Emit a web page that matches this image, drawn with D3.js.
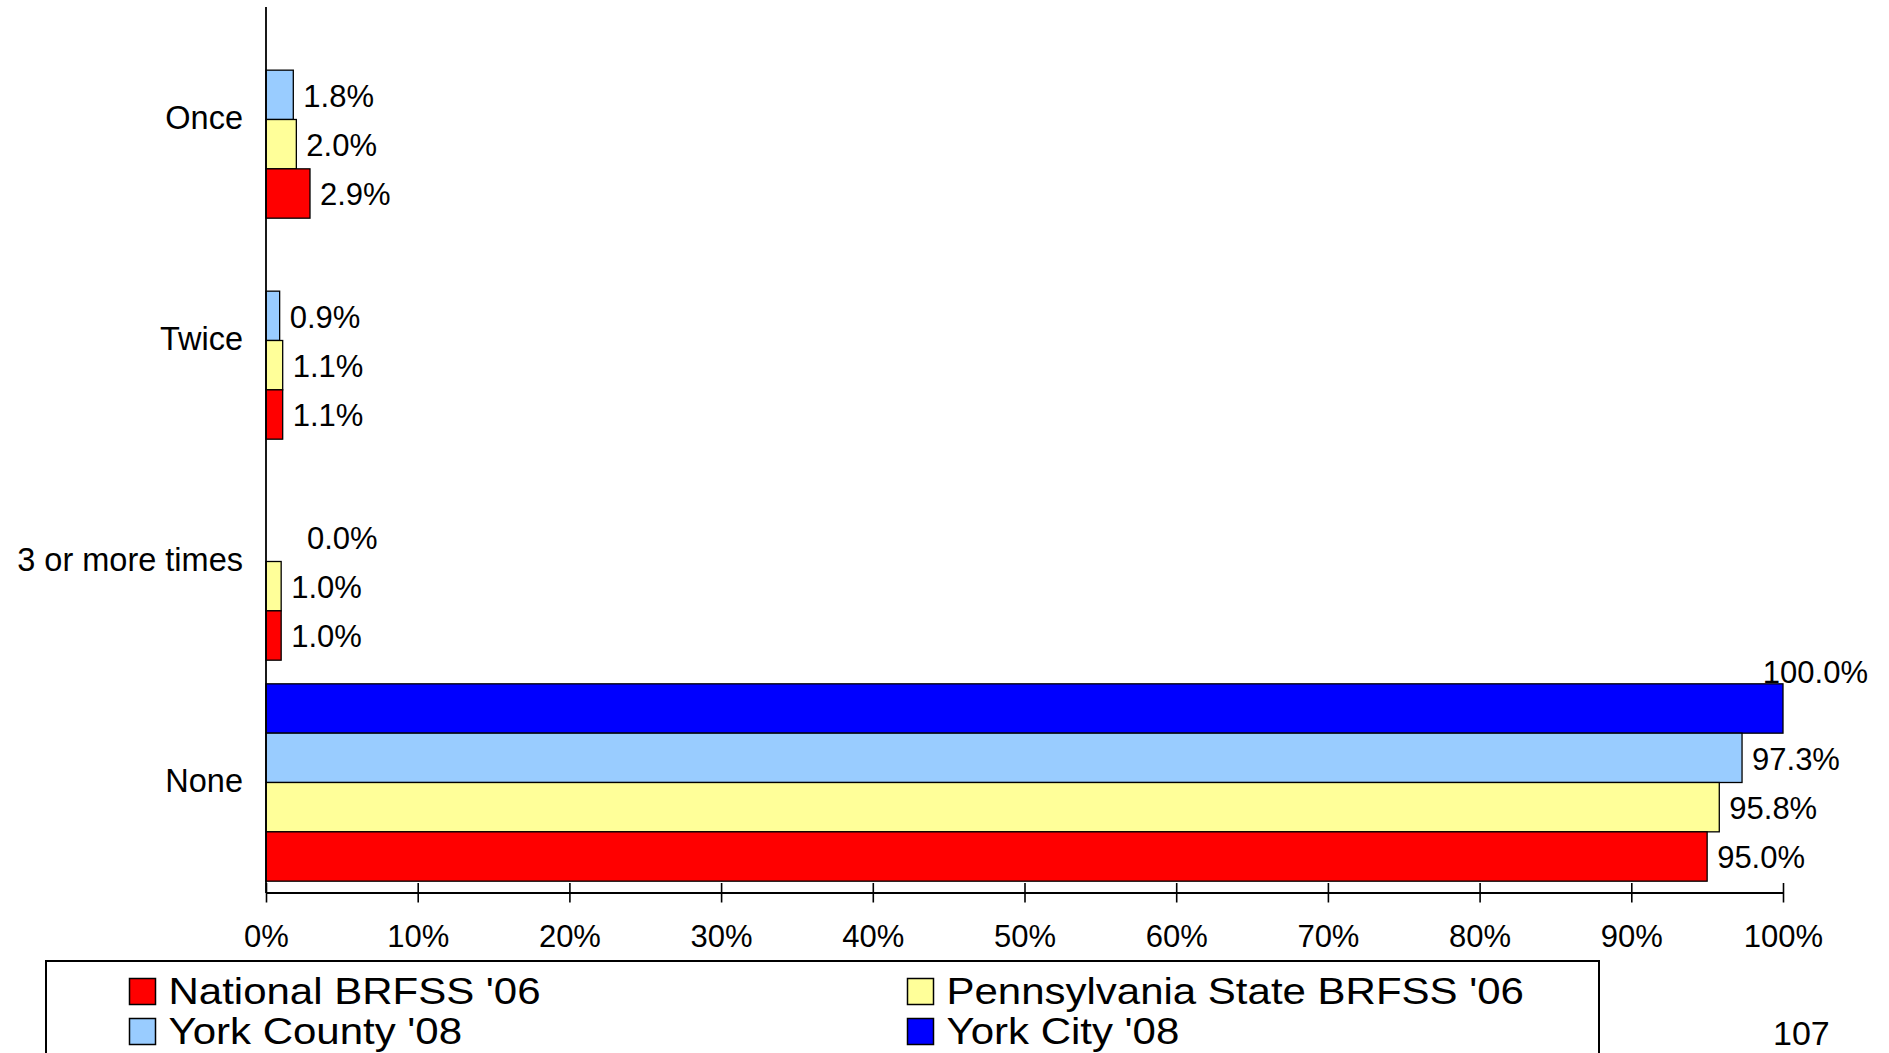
<!DOCTYPE html>
<html>
<head>
<meta charset="utf-8">
<script src="https://cdn.jsdelivr.net/npm/d3@7"></script>
<style>
  html, body { margin: 0; padding: 0; background: #fff; }
  svg { display: block; }
  text { font-family: "Liberation Sans", Arial, sans-serif; fill: #000; }
</style>
</head>
<body>
<svg id="chart" width="1889" height="1053"></svg>
<script>
// ---- data ----
const categories = ["Once", "Twice", "3 or more times", "None"];
const seriesNames = ["York City '08", "York County '08", "Pennsylvania State BRFSS '06", "National BRFSS '06"];
const yorkCity = [null, null, null, 100.0];
const yorkCounty = [1.8, 0.9, 0.0, 97.3];
const pennsylvania = [2.0, 1.1, 1.0, 95.8];
const national = [2.9, 1.1, 1.0, 95.0];
const seriesColors = ["#0000FF", "#99CCFF", "#FFFF99", "#FF0000"];
const xTicks = [0, 10, 20, 30, 40, 50, 60, 70, 80, 90, 100];
const legendOrder = ["National BRFSS '06", "Pennsylvania State BRFSS '06", "York County '08", "York City '08"];
const pageNumber = "107";

const seriesValues = [yorkCity, yorkCounty, pennsylvania, national];

// ---- layout ----
const svg = d3.select("#chart");
const plotLeft = 266, plotRight = 1783, plotTop = 7, plotBottom = 893;
const chartRightLimit = 1868;

const x = d3.scaleLinear().domain([0, 100]).range([plotLeft, plotRight]);
const y = d3.scaleBand().domain(categories).range([plotTop + 2, plotBottom])
  .paddingInner(0.107).paddingOuter(0.0535);
const ys = d3.scaleBand().domain(seriesNames).range([0, y.bandwidth()]);
const color = d3.scaleOrdinal().domain(seriesNames).range(seriesColors);

// flatten
const rows = [];
seriesNames.forEach((s, si) => {
  categories.forEach((c, ci) => {
    const v = seriesValues[si][ci];
    if (v !== null && v !== undefined) rows.push({ series: s, cat: c, value: v });
  });
});

// bars
svg.append("g").selectAll("rect").data(rows).join("rect")
  .attr("x", x(0))
  .attr("y", d => y(d.cat) + ys(d.series))
  .attr("width", d => x(d.value) - x(0))
  .attr("height", ys.bandwidth())
  .attr("fill", d => color(d.series))
  .attr("stroke", "#000")
  .attr("stroke-width", d => d.value > 0 ? 1.3 : 0);

// value labels
const labels = svg.append("g").selectAll("text").data(rows).join("text")
  .attr("x", d => x(d.value) + 10 + (d.value === 0 ? 31 : 0))
  .attr("y", d => y(d.cat) + ys(d.series) + ys.bandwidth() / 2)
  .attr("dy", "0.38em")
  .attr("font-size", 31)
  .text(d => d.value.toFixed(1) + "%");
labels.each(function(d) {
  const t = d3.select(this);
  const len = this.getComputedTextLength();
  const lx = +t.attr("x");
  if (lx + len > chartRightLimit) {
    t.attr("x", chartRightLimit - len)
     .attr("y", y(d.cat) + ys(d.series) - 1)
     .attr("dy", 0);
  }
});

// y axis
const yAxis = svg.append("g").attr("transform", `translate(${plotLeft},0)`)
  .call(d3.axisLeft(y).tickSize(0).tickPadding(23));
yAxis.select(".domain").attr("stroke", "#000").attr("stroke-width", 1.8)
  .attr("d", `M0,${plotTop}V${plotBottom}`);
yAxis.selectAll("text").attr("font-size", 32.5).attr("font-family", "Liberation Sans, Arial, sans-serif")
  .attr("dy", "0.28em");

// x axis
const xAxis = svg.append("g").attr("transform", `translate(0,${plotBottom})`)
  .call(d3.axisBottom(x).tickValues(xTicks).tickFormat(d => d + "%").tickSize(10));
xAxis.select(".domain").attr("stroke", "#000").attr("stroke-width", 2)
  .attr("d", `M${plotLeft},0H${plotRight}`);
xAxis.selectAll(".tick line").attr("y1", -10).attr("y2", 9.5).attr("stroke", "#000").attr("stroke-width", 1.6);
xAxis.selectAll(".tick text").attr("font-size", 31).attr("font-family", "Liberation Sans, Arial, sans-serif")
  .attr("y", 53.5).attr("dy", 0);

// legend
const legend = svg.append("g");
legend.append("rect")
  .attr("x", 46).attr("y", 961).attr("width", 1553).attr("height", 200)
  .attr("fill", "none").attr("stroke", "#000").attr("stroke-width", 2);
const colX = [129.5, 907.5];
const rowY = [991.5, 1031.5];
const sw = 26;
legendOrder.forEach((name, i) => {
  const cx = colX[i % 2], cy = rowY[Math.floor(i / 2)];
  const g = legend.append("g");
  g.append("rect").attr("x", cx).attr("y", cy - sw / 2).attr("width", sw).attr("height", sw)
    .attr("fill", color(name)).attr("stroke", "#000").attr("stroke-width", 1.5);
  g.append("text")
    .attr("transform", `translate(${cx + 39},${cy + 12}) scale(1.135,1)`)
    .attr("font-size", 37)
    .text(name);
});

// page number
svg.append("text").attr("x", 1773).attr("y", 1045).attr("font-size", 34).text(pageNumber);
</script>
</body>
</html>
